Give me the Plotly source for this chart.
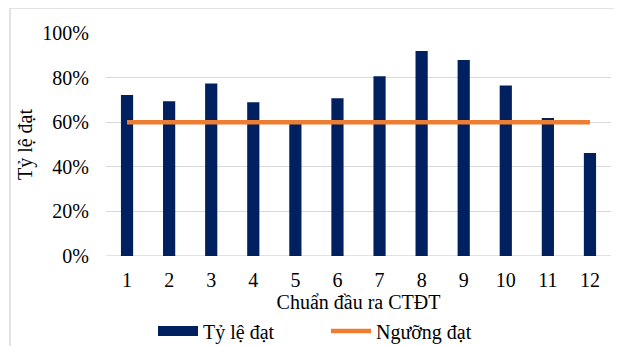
import plotly.graph_objects as go

categories = ["1", "2", "3", "4", "5", "6", "7", "8", "9", "10", "11", "12"]
ty_le_dat = [0.722, 0.694, 0.774, 0.690, 0.592, 0.707, 0.806, 0.919, 0.879, 0.765, 0.619, 0.462]
nguong_dat = [0.60] * 12
y_ticks = [0, 0.2, 0.4, 0.6, 0.8, 1.0]

FONT = "Liberation Serif, Times New Roman, serif"
NAVY = "#002060"
ORANGE = "#ED7D31"
GRID = "#D9D9D9"

fig = go.Figure()
fig.add_trace(go.Bar(x=categories, y=ty_le_dat, name="Tỷ lệ đạt", showlegend=False,
                     marker=dict(color=NAVY, line=dict(width=0))))
# legend entry drawn as a wide block like the reference's legend key
fig.add_trace(go.Scatter(x=[None], y=[None], name="Tỷ lệ đạt", mode="lines",
                         line=dict(color=NAVY, width=10)))
fig.add_trace(go.Scatter(x=categories, y=nguong_dat, name="Ngưỡng đạt", mode="lines",
                         line=dict(color=ORANGE, width=4.5)))

# page body has an 8px margin: work in page pixels, convert to figure pixels
OFF = 8
W, H = 622 - OFF, 346 - OFF
L, R, T, B = 106 - OFF, 11, 33 - OFF, 90
pw, ph = W - L - R, H - T - B

def px(x):  # page x -> paper
    return (x - OFF - L) / pw

def py(y):  # page y -> paper
    return (H - B - (y - OFF)) / ph

border = dict(color=GRID, width=1.5)
fig.update_layout(
    width=W, height=H,
    margin=dict(l=L, r=R, t=T, b=B, autoexpand=False),
    paper_bgcolor="white", plot_bgcolor="white",
    font=dict(family=FONT, size=20, color="#000000"),
    bargap=0.71,
    showlegend=True,
    legend=dict(orientation="h", x=px(326), xanchor="center", y=py(331), yanchor="middle",
                font=dict(size=20), itemwidth=40, entrywidth=118, entrywidthmode="pixels",
                tracegroupgap=0, bgcolor="rgba(0,0,0,0)"),
    xaxis=dict(showgrid=False, showline=False, ticks="", zeroline=False, automargin=False,
               ticklabelstandoff=10,
               title=dict(text="Chuẩn đầu ra CTĐT", standoff=4, font=dict(size=20)),
               tickfont=dict(size=20)),
    yaxis=dict(range=[0, 1.0], tickvals=y_ticks, tickformat=".0%", automargin=False,
               showgrid=True, gridcolor=GRID, gridwidth=1.3, zeroline=False,
               showline=False, ticks="", ticklabelstandoff=16,
               title=dict(text="Tỷ lệ đạt", standoff=4, font=dict(size=20)),
               tickfont=dict(size=20)),
    shapes=[dict(type="line", xref="paper", yref="y", x0=0, x1=1, y0=0, y1=0,
                 line=dict(color=GRID, width=1.3), layer="below"),
            dict(type="line", xref="paper", yref="paper", x0=px(10), x1=px(617),
                 y0=py(8), y1=py(8), line=border),
            dict(type="line", xref="paper", yref="paper", x0=px(10), x1=px(10),
                 y0=py(8), y1=py(346), line=border),
            dict(type="line", xref="paper", yref="paper", x0=px(617), x1=px(617),
                 y0=py(8), y1=py(346), line=border)],
)

fig.write_html("out.html")
